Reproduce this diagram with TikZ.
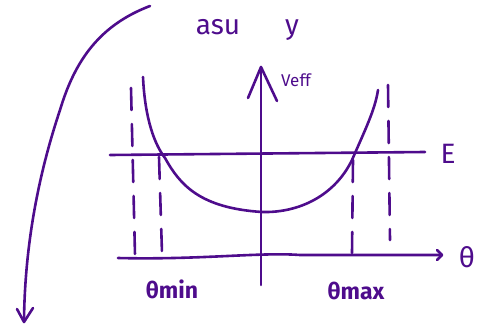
\documentclass[tikz,border=0pt]{standalone}
\usepackage{fontspec}
\setmainfont{Fira Sans}
\definecolor{ink}{RGB}{78,12,140}
\begin{document}
\begin{tikzpicture}[x=1pt,y=-1pt,
  pen/.style={draw=ink,line width=2.6pt,line cap=round,line join=round},
  dashpen/.style={pen,dash pattern=on 22pt off 14pt},
  lbl/.style={text=ink,inner sep=0pt,font=\fontsize{28}{28}\selectfont},
  small/.style={text=ink,inner sep=0pt,font=\fontsize{17}{17}\selectfont},
  bot/.style={text=ink,inner sep=0pt,font=\bfseries\fontsize{23}{23}\selectfont}]
\useasboundingbox (0,0) rectangle (495,329);
% big curved arrow
\draw[pen] (150,6) .. controls (100,25) and (75,60) .. (60,110)
  .. controls (40,170) and (25,240) .. (24,320);
\draw[pen] (17,309) -- (24,322) -- (33,308);
% labels
\node[lbl] (asu) at (218,27) {asu};
\node[lbl] (y) at (292,30) {y};
% vertical axis
\coordinate (vb) at (261,285);
\coordinate (vt) at (261,67);
\draw[pen] (vb) -- (vt);
\draw[pen] (248,98) -- (vt) -- (277,101);
\node[small,anchor=west] (veff) at (281,80) {Veff};
% E line
\coordinate (e1) at (110,155);
\coordinate (e2) at (425,152);
\draw[pen] (e1) -- (e2);
\node[lbl] (E) at (448,154) {E};
% theta axis
\coordinate (t1) at (118,258);
\coordinate (t2) at (442,255);
\draw[pen] (t1) .. controls (200,260) and (260,252) .. (300,255) -- (t2);
\draw[pen] (437,250) -- (t2) -- (437,260);
\node[lbl] (th) at (467,257) {θ};
% potential curve
\draw[pen] (143,77) .. controls (145,120) and (155,145) .. (165,158)
  .. controls (180,185) and (200,208) .. (262,212)
  .. controls (300,213) and (335,195) .. (352,160)
  .. controls (365,130) and (375,110) .. (378,90);
% dashed lines
\draw[dashpen] (131,88) -- (135,255);
\draw[dashpen] (159,157) -- (162,253);
\draw[dashpen] (353,160) -- (352,253);
\draw[dashpen] (388,85) -- (390,240);
% bottom labels
\node[bot] (tmin) at (172,289) {θmin};
\node[bot] (tmax) at (356,291) {θmax};
\end{tikzpicture}
\end{document}
